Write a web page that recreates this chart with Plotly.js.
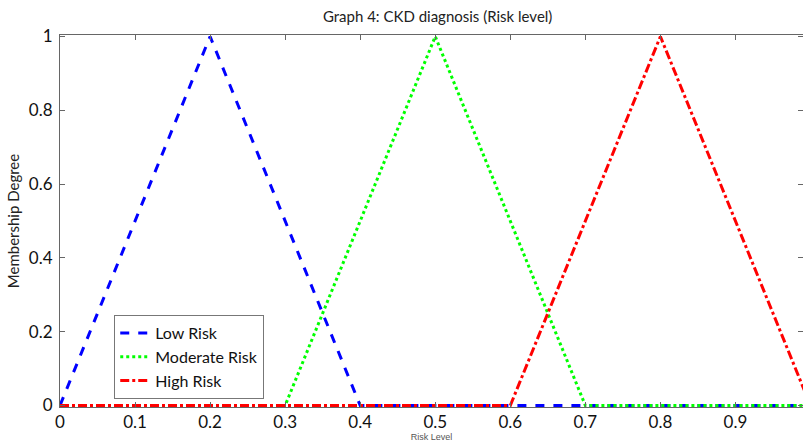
<!DOCTYPE html>
<html>
<head>
<meta charset="utf-8">
<script src="https://cdn.plot.ly/plotly-3.0.1.min.js"></script>
<style>
  html, body { margin: 0; padding: 0; background: #fff; }
  #chart { width: 803px; height: 443px; }
</style>
</head>
<body>
<div id="chart"></div>
<script>
// Triangular membership functions for CKD risk level
const riskX = [0, 0.2, 0.4, 0.6, 0.8, 1.0];
const lowRisk = [0, 1, 0, 0, 0, 0];

const moderateX = [0, 0.3, 0.5, 0.7, 1.0];
const moderateRisk = [0, 0, 1, 0, 0];

const highX = [0, 0.6, 0.8, 1.0];
const highRisk = [0, 0, 1, 0];

const xTicks = [0, 0.1, 0.2, 0.3, 0.4, 0.5, 0.6, 0.7, 0.8, 0.9];
const xTickText = ['0', '0.1', '0.2', '0.3', '0.4', '0.5', '0.6', '0.7', '0.8', '0.9'];
const yTicks = [0, 0.2, 0.4, 0.6, 0.8, 1];
const yTickText = ['0', '0.2', '0.4', '0.6', '0.8', '1'];

const narrow = 'Lato, "Liberation Sans Narrow", "DejaVu Sans Condensed", sans-serif';

const traces = [
  { x: riskX, y: lowRisk, name: 'Low Risk', mode: 'lines',
    line: { color: '#0000ff', width: 3, dash: 'dash' } },
  { x: moderateX, y: moderateRisk, name: 'Moderate Risk', mode: 'lines',
    line: { color: '#00ff00', width: 3, dash: 'dot' } },
  { x: highX, y: highRisk, name: 'High Risk', mode: 'lines',
    line: { color: '#ff0000', width: 3, dash: 'dashdot' } }
];

const axisCommon = {
  showgrid: false, zeroline: false, showline: true, linecolor: '#666', linewidth: 1,
  ticks: 'inside', ticklen: 5, tickcolor: '#666', mirror: 'ticks',
  tickfont: { family: narrow, size: 17, color: '#111' }
};

const layout = {
  width: 803, height: 443,
  margin: { l: 60, r: 0, t: 35, b: 36 },
  paper_bgcolor: '#fff', plot_bgcolor: '#fff',
  title: { text: 'Graph 4: CKD diagnosis (Risk level)', x: 0.545, xanchor: 'center', y: 0.962, yanchor: 'middle',
           font: { family: narrow, size: 15, color: '#222' } },
  xaxis: Object.assign({}, axisCommon, {
    range: [0, 0.99], tickvals: xTicks, ticktext: xTickText, ticklabelstandoff: 0,
    title: { text: 'Risk Level', standoff: 0, font: { family: 'Liberation Sans, Arial, sans-serif', size: 9, color: '#555' } }
  }),
  yaxis: Object.assign({}, axisCommon, {
    range: [-0.004, 1.004], tickvals: yTicks, ticktext: yTickText, ticklabelstandoff: 3,
    title: { text: 'Membership Degree', standoff: 5, font: { family: narrow, size: 15, color: '#222' } }
  }),
  legend: {
    x: 0.073, y: 0.247, xanchor: 'left', yanchor: 'top',
    bgcolor: '#fff', bordercolor: '#777', borderwidth: 1,
    font: { family: narrow, size: 16, color: '#111' },
    tracegroupgap: 0, itemwidth: 30
  },
  showlegend: true
};

Plotly.newPlot('chart', traces, layout, { displayModeBar: false, staticPlot: true });
</script>
</body>
</html>
